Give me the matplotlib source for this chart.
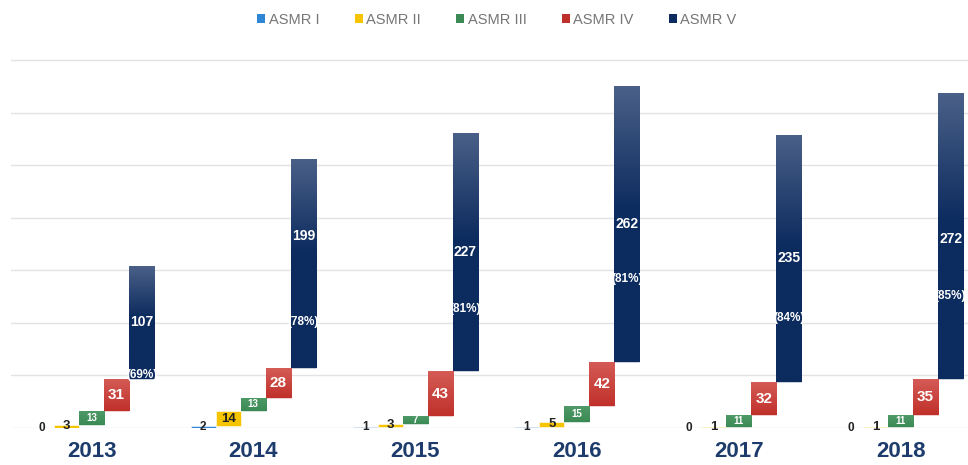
"""Floating waterfall bars of ASMR ratings per year."""

import numpy as np
import matplotlib
matplotlib.use('Agg')
import matplotlib.pyplot as plt
from matplotlib.colors import LinearSegmentedColormap
from matplotlib.patches import Patch

plt.rcParams['font.family'] = ['Liberation Sans', 'DejaVu Sans']

# data
years = ['2013', '2014', '2015', '2016', '2017', '2018']
series_names = ['ASMR I', 'ASMR II', 'ASMR III', 'ASMR IV', 'ASMR V']
asmr_1 = [0, 2, 1, 1, 0, 0]
asmr_2 = [3, 14, 3, 5, 1, 1]
asmr_3 = [13, 13, 7, 15, 11, 11]
asmr_4 = [31, 28, 43, 42, 32, 35]
asmr_5 = [107, 199, 227, 262, 235, 272]
asmr_5_share = ['(69%)', '(78%)', '(81%)', '(81%)', '(84%)', '(85%)']

# where the two labels sit inside the ASMR V bar (fraction of bar height)
value_frac = [0.50, 0.63, 0.50, 0.50, 0.50, 0.49]
share_frac = [0.03, 0.22, 0.26, 0.30, 0.26, 0.29]

colors = ['#2f86d6', '#f7c400', '#3b8a55', '#c0302a', '#0c2b5e']
grad_top = [None, None, '#4f9a68', '#d55c57', '#4a6088']
grad_stops = [None, None, 0.0, 0.0, 0.55]
label_colors = ['#222222', '#222222', 'white', 'white', 'white']
label_sizes = [8.5, 9.5, 7, 11, 10]

W, H = 968, 465
fig = plt.figure(figsize=(W / 100, H / 100), dpi=100)
ax = fig.add_axes([10.6 / W, 37 / H, 957.4 / W, 370 / H])

bar_w = 25 / 161.8
x = np.arange(len(years))
series = [asmr_1, asmr_2, asmr_3, asmr_4, asmr_5]

bottom = np.zeros(len(years))
for j, vals in enumerate(series):
    vals = np.array(vals, dtype=float)
    xpos = x + (j - 2) * bar_w
    bars = ax.bar(xpos, vals, bar_w, bottom=bottom, color=colors[j],
                  edgecolor='white', linewidth=0.4, zorder=2)
    if grad_top[j] is not None:
        cmap = LinearSegmentedColormap.from_list(
            'g%d' % j, [(0, colors[j]), (grad_stops[j], colors[j]), (1, grad_top[j])])
        grad = np.linspace(0, 1, 256).reshape(-1, 1)
        for k, b in enumerate(bars):
            if vals[k] <= 0:
                continue
            im = ax.imshow(grad, extent=[xpos[k] - bar_w / 2, xpos[k] + bar_w / 2,
                                         bottom[k], bottom[k] + vals[k]],
                           origin='lower', cmap=cmap, aspect='auto', zorder=2.1)
            im.set_clip_path(b)
    for k, b in enumerate(bars):
        if j == 4:
            yv = bottom[k] + vals[k] * value_frac[k]
            ys = bottom[k] + vals[k] * share_frac[k]
            ax.text(xpos[k], yv, str(int(vals[k])), ha='center', va='center',
                    color='white', fontsize=label_sizes[j], fontweight='bold', zorder=4)
            t = ax.text(xpos[k], ys, asmr_5_share[k], ha='center', va='center',
                        color='white', fontsize=8.5, fontweight='bold', zorder=4)
            t.set_clip_path(b)
        else:
            yv = bottom[k] + vals[k] / 2
            ax.text(xpos[k], yv, str(int(vals[k])), ha='center', va='center',
                    color=label_colors[j], fontsize=label_sizes[j],
                    fontweight='bold', zorder=4)
    bottom = bottom + vals

ax.set_xlim(-0.5, 5.417)
ax.set_ylim(0, 352)
ax.set_yticks(np.arange(0, 351, 50))
ax.yaxis.grid(True, color='#e3e3e3', linewidth=1)
ax.set_axisbelow(True)
ax.tick_params(axis='y', left=False, labelleft=False)
ax.set_xticks(x)
ax.set_xticklabels(years, fontsize=16, fontweight='bold', color='#1d3c6c')
ax.tick_params(axis='x', length=0, pad=9)
for s in ax.spines.values():
    s.set_visible(False)

handles = [Patch(facecolor=c, edgecolor='none') for c in colors]
fig.legend(handles, series_names, loc='center', bbox_to_anchor=(497 / W, 1 - 20 / H),
           ncol=5, frameon=False, fontsize=10.5, labelcolor='#767676',
           handlelength=0.55, handleheight=0.55, handletextpad=0.25,
           columnspacing=2.4)

fig.savefig('out.png', dpi=100)
